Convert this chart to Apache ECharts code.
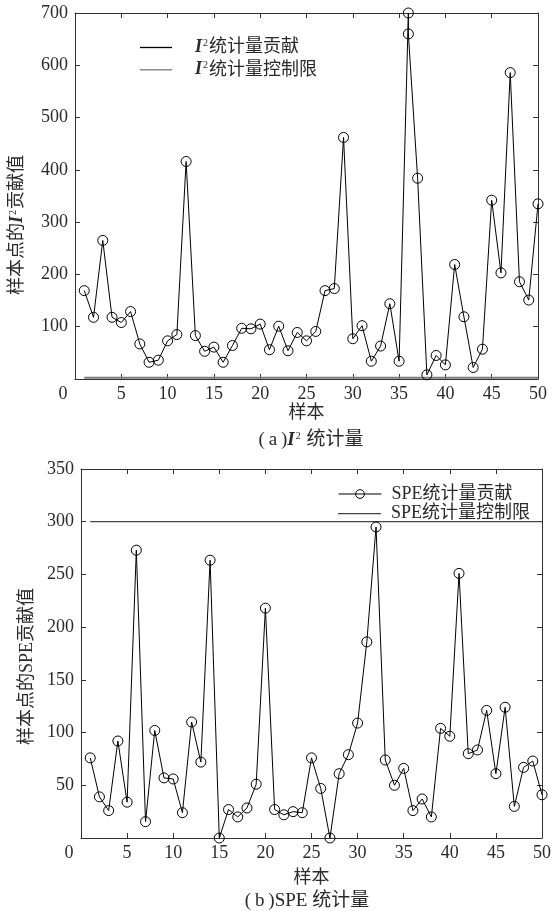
<!DOCTYPE html>
<html><head><meta charset="utf-8">
<script src="https://cdn.jsdelivr.net/npm/echarts@6/dist/echarts.min.js"></script>
<style>html,body{margin:0;padding:0;background:#fff}#c{width:554px;height:911px}</style>
</head><body><div id="c"></div>
<script>
// ---- data ----
const samplesI2 = [1,2,3,4,5,6,7,8,9,10,11,12,13,14,15,16,17,18,19,20,21,22,23,24,25,26,27,28,29,30,31,32,33,34,35,36,36,37,38,39,40,41,42,43,44,45,46,47,48,49,50];
const valuesI2 = [169,118,265,118,108,129,67,32,36,73,85,416,83,53,61,32,64,97,96,105,56,101,54,89,73,91,169,173,462,77,102,34,63,144,34,700,660,384,8,45,27,219,119,22,57,342,203,586,186,151,335];
const samplesSPE = [1,2,3,4,5,6,7,8,9,10,11,12,13,14,15,16,17,18,19,20,21,22,23,24,25,26,27,28,29,30,31,32,33,34,35,36,37,38,39,40,41,42,43,44,45,46,47,48,49,50];
const valuesSPE = [76,39,26,92,34,273,15.5,102,57,56,24,110,72,263.5,0,27,20,28.5,51,218,27,22,25,24,76,47,0,61,79,109,186,295,74,50,66,26,37,20,104,96.5,251,80,83.5,121,61,124,30,67,73,41];
const controlRange = [1, 50];
const controlI2 = 2.5;
const controlSPE = 300;
const xTickLabels = [0,5,10,15,20,25,30,35,40,45,50];
const yTickLabelsI2 = [100,200,300,400,500,600,700];
const yTickLabelsSPE = [50,100,150,200,250,300,350];
const names = {
  i2Contrib: 'I²统计量贡献', i2Limit: 'I²统计量控制限',
  speContrib: 'SPE统计量贡献', speLimit: 'SPE统计量控制限',
  xName: '样本', yNameI2: '样本点的{i|I}{s|2}贡献值', yNameSPE: '样本点的SPE贡献值',
  capA: '(\u2009a\u2009){i|I}{s|2} 统计量', capB: '(\u2009b\u2009)SPE 统计量'
};

// ---- chart ----
const FONT = "'Liberation Serif','Noto Sans CJK SC',serif";
const TXT = '#2a2a2a';
const AX = '#333';
const richSup = {
  i: {fontStyle:'italic', fontWeight:'bold', fontSize:18, fontFamily:"'Liberation Serif',serif", color:TXT},
  s: {fontSize:10, fontFamily:"'Liberation Serif',serif", verticalAlign:'top', color:TXT, padding:[0,1,0,1]}
};
const zeroRich = {z: {padding:[0,24,0,0], fontSize:18, fontFamily:FONT, color:TXT}};

function xAxes(grid) {
  return [
    {gridIndex:grid, type:'value', min:0, max:50, interval:5, position:'bottom',
     axisLine:{onZero:false, lineStyle:{color:AX, width:1}},
     axisTick:{inside:true, length:5, lineStyle:{color:AX}},
     splitLine:{show:false},
     axisLabel:{fontSize:18, fontFamily:FONT, color:TXT, margin:6,
       formatter: v => xTickLabels.indexOf(v) < 0 ? '' : (v === 0 ? '{z|0}' : String(v)), rich: zeroRich},
     name: names.xName, nameLocation:'middle', nameGap: grid === 0 ? 23 : 31,
     nameTextStyle:{fontSize:18, fontFamily:FONT, color:TXT}},
    {gridIndex:grid, type:'value', min:0, max:50, interval:5, position:'top',
     axisLine:{onZero:false, lineStyle:{color:AX, width:1}},
     axisTick:{inside:true, length:5, lineStyle:{color:AX}},
     splitLine:{show:false}, axisLabel:{show:false}}
  ];
}
function yAxes(grid, max, interval, labels, name, gap, pad) {
  return [
    {gridIndex:grid, type:'value', min:0, max:max, interval:interval, position:'left',
     axisLine:{onZero:false, lineStyle:{color:AX, width:1}},
     axisTick:{inside:true, length:5, lineStyle:{color:AX}},
     splitLine:{show:false},
     axisLabel:{fontSize:18, fontFamily:FONT, color:TXT, margin:7,
       formatter: v => labels.indexOf(v) < 0 ? '' : String(v)},
     name: name, nameLocation:'middle', nameGap: gap, nameRotate: 90,
     nameTextStyle:{fontSize:18, fontFamily:FONT, color:TXT, padding:[0,pad,0,0], rich: richSup}},
    {gridIndex:grid, type:'value', min:0, max:max, interval:interval, position:'right',
     axisLine:{onZero:false, lineStyle:{color:AX, width:1}},
     axisTick:{inside:true, length:5, lineStyle:{color:AX}},
     splitLine:{show:false}, axisLabel:{show:false}}
  ];
}

const markerStyle = {color:'rgba(0,0,0,0)', borderColor:'#000', borderWidth:1};

const chart = echarts.init(document.getElementById('c'), null, {renderer:'canvas'});
chart.setOption({
  animation:false,
  backgroundColor:'#fff',
  grid:[
    {left:74, top:13, width:464, height:366},
    {left:81, top:469, width:467, height:369}
  ],
  xAxis: xAxes(0).concat(xAxes(1)),
  yAxis: yAxes(0, 700, 100, yTickLabelsI2, names.yNameI2, 49, 58)
          .concat(yAxes(1, 350, 50, yTickLabelsSPE, names.yNameSPE, 45, 26)),
  title:[
    {text: names.capA, left:306, top:426, textAlign:'center',
     textStyle:{fontSize:19, fontWeight:'normal', fontFamily:FONT, color:TXT,
       rich:{i:Object.assign({}, richSup.i, {fontSize:19}), s:richSup.s}}},
    {text: names.capB, left:302, top:887, textAlign:'center',
     textStyle:{fontSize:19, fontWeight:'normal', fontFamily:FONT, color:TXT}}
  ],
  legend:[
    {data:[
       {name:names.i2Contrib, itemStyle:{color:'#000', borderWidth:0}},
       {name:names.i2Limit, itemStyle:{color:'#7a7a7a', borderWidth:0}}],
     orient:'vertical', left:135, top:33.5,
     icon:'rect', itemWidth:32, itemHeight:1.3, itemGap:4.3,
     formatter: n => n.replace('I²', '{i|I}{s|2}'),
     textStyle:{fontSize:18, fontFamily:FONT, color:TXT, padding:[0,0,0,18], rich:richSup}},
    {data:[names.speContrib], orient:'vertical', left:333, top:480,
     itemWidth:43, itemHeight:11,
     lineStyle:{width:1}, itemStyle:{borderWidth:1},
     textStyle:{fontSize:18, fontFamily:FONT, color:TXT, padding:[0,0,0,5]}},
    {data:[{name:names.speLimit, itemStyle:{color:'#444', borderWidth:0}}], orient:'vertical', left:333, top:499.7,
     icon:'rect', itemWidth:43, itemHeight:1.2,
     textStyle:{fontSize:18, fontFamily:FONT, color:TXT, padding:[0,0,0,5]}}
  ],
  series:[
    {type:'line', name:names.i2Contrib, xAxisIndex:0, yAxisIndex:0,
     data: samplesI2.map((x,i)=>[x, valuesI2[i]]),
     symbol:'circle', symbolSize:10,
     itemStyle:markerStyle, lineStyle:{color:'#000', width:1}, z:3},
    {type:'line', name:names.i2Limit, xAxisIndex:0, yAxisIndex:0,
     data: controlRange.map(x=>[x, controlI2]), symbol:'none',
     itemStyle:{color:'#7a7a7a'}, lineStyle:{color:'#7a7a7a', width:2}, z:2},
    {type:'line', name:names.speContrib, xAxisIndex:2, yAxisIndex:2,
     data: samplesSPE.map((x,i)=>[x, valuesSPE[i]]),
     symbol:'circle', symbolSize:10,
     itemStyle:markerStyle, lineStyle:{color:'#000', width:1}, z:3},
    {type:'line', name:names.speLimit, xAxisIndex:2, yAxisIndex:2,
     data: controlRange.map(x=>[x, controlSPE]), symbol:'none',
     itemStyle:{color:'#444'}, lineStyle:{color:'#444', width:1.2}, z:2}
  ]
});
</script>
</body></html>
